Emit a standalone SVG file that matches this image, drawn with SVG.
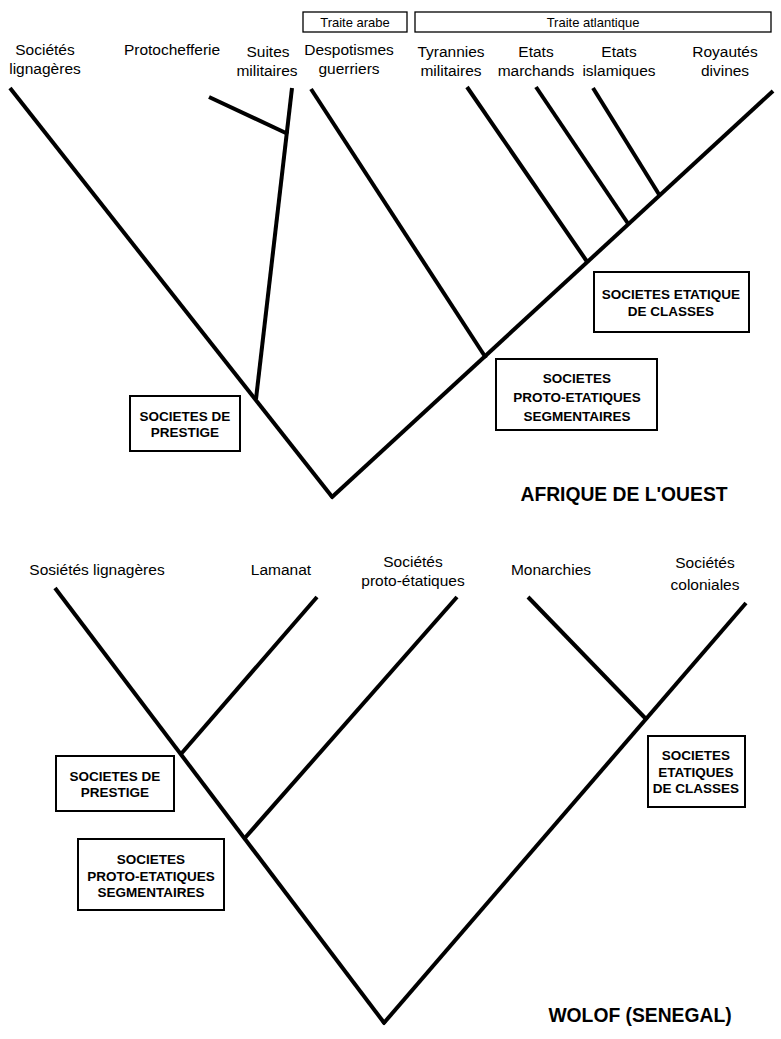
<svg xmlns="http://www.w3.org/2000/svg" width="781" height="1039" viewBox="0 0 781 1039">
<style>
.bg{fill:#fff}
.ln{stroke:#000;stroke-width:4;fill:none;stroke-linecap:butt}
.box{fill:#fff;stroke:#000;stroke-width:2}
.tbox{fill:#fff;stroke:#000;stroke-width:1.3}
.lab{font-family:"Liberation Sans",Arial,sans-serif;font-size:15.5px;fill:#000;text-anchor:middle}
.bt{font-family:"Liberation Sans",Arial,sans-serif;font-size:13.5px;font-weight:bold;fill:#000;text-anchor:middle}
.tt{font-family:"Liberation Sans",Arial,sans-serif;font-size:13px;fill:#000;text-anchor:middle}
.title{font-family:"Liberation Sans",Arial,sans-serif;font-size:19.3px;font-weight:bold;fill:#000;text-anchor:middle}
</style>
<rect class="bg" x="0" y="0" width="781" height="1039"/>
<g id="connectors">
  <line class="ln" x1="10" y1="88" x2="333" y2="498"/>
  <line class="ln" x1="331" y1="498" x2="773" y2="91"/>
  <line class="ln" x1="292" y1="88" x2="256" y2="399"/>
  <line class="ln" x1="209" y1="97" x2="288" y2="134"/>
  <line class="ln" x1="311" y1="89" x2="486" y2="358"/>
  <line class="ln" x1="467" y1="87" x2="588" y2="263"/>
  <line class="ln" x1="536" y1="87" x2="629" y2="225"/>
  <line class="ln" x1="593" y1="88" x2="660" y2="196"/>
  <line class="ln" x1="55" y1="588" x2="385" y2="1024"/>
  <line class="ln" x1="383" y1="1024" x2="746" y2="603"/>
  <line class="ln" x1="317" y1="597" x2="181" y2="754"/>
  <line class="ln" x1="457" y1="597" x2="244" y2="839"/>
  <line class="ln" x1="528" y1="597" x2="647" y2="720"/>
</g>
<g id="traite-arabe">
  <rect class="tbox" x="303" y="12" width="104" height="20"/>
  <text class="tt" x="355" y="27">Traite arabe</text>
</g>
<g id="traite-atlantique">
  <rect class="tbox" x="415" y="12" width="356" height="20"/>
  <text class="tt" x="593" y="27">Traite atlantique</text>
</g>
<g id="n-societes-lignageres">
  <text class="lab" x="45" y="55">Sociétés</text>
  <text class="lab" x="45" y="74">lignagères</text>
</g>
<g id="n-protochefferie">
  <text class="lab" x="172" y="55">Protochefferie</text>
</g>
<g id="n-suites-militaires">
  <text class="lab" x="268" y="57">Suites</text>
  <text class="lab" x="267" y="76">militaires</text>
</g>
<g id="n-despotismes">
  <text class="lab" x="349" y="55">Despotismes</text>
  <text class="lab" x="349" y="74">guerriers</text>
</g>
<g id="n-tyrannies">
  <text class="lab" x="451" y="57">Tyrannies</text>
  <text class="lab" x="451" y="76">militaires</text>
</g>
<g id="n-etats-marchands">
  <text class="lab" x="536" y="57">Etats</text>
  <text class="lab" x="536" y="76">marchands</text>
</g>
<g id="n-etats-islamiques">
  <text class="lab" x="619" y="57">Etats</text>
  <text class="lab" x="619" y="76">islamiques</text>
</g>
<g id="n-royautes">
  <text class="lab" x="725" y="57">Royautés</text>
  <text class="lab" x="725" y="76">divines</text>
</g>
<g id="b-prestige-top">
  <rect class="box" x="130" y="396" width="110" height="55"/>
  <text class="bt" x="185" y="421">SOCIETES DE</text>
  <text class="bt" x="185" y="437">PRESTIGE</text>
</g>
<g id="b-etatique-top">
  <rect class="box" x="594" y="272" width="155" height="60"/>
  <text class="bt" x="671" y="299">SOCIETES ETATIQUE</text>
  <text class="bt" x="671" y="316">DE CLASSES</text>
</g>
<g id="b-proto-top">
  <rect class="box" x="496" y="359" width="161" height="71"/>
  <text class="bt" x="577" y="383">SOCIETES</text>
  <text class="bt" x="577" y="402">PROTO-ETATIQUES</text>
  <text class="bt" x="577" y="421">SEGMENTAIRES</text>
</g>
<g id="title-afrique">
  <text class="title" x="624" y="501">AFRIQUE DE L'OUEST</text>
</g>
<g id="n-sosietes">
  <text class="lab" x="97" y="575">Sosiétés lignagères</text>
</g>
<g id="n-lamanat">
  <text class="lab" x="281" y="575">Lamanat</text>
</g>
<g id="n-proto-etatiques">
  <text class="lab" x="413" y="567">Sociétés</text>
  <text class="lab" x="413" y="586">proto-étatiques</text>
</g>
<g id="n-monarchies">
  <text class="lab" x="551" y="575">Monarchies</text>
</g>
<g id="n-coloniales">
  <text class="lab" x="705" y="568">Sociétés</text>
  <text class="lab" x="705" y="590">coloniales</text>
</g>
<g id="b-prestige-bottom">
  <rect class="box" x="56" y="756" width="118" height="55"/>
  <text class="bt" x="115" y="781">SOCIETES DE</text>
  <text class="bt" x="115" y="797">PRESTIGE</text>
</g>
<g id="b-proto-bottom">
  <rect class="box" x="78" y="839" width="146" height="71"/>
  <text class="bt" x="151" y="864">SOCIETES</text>
  <text class="bt" x="151" y="881">PROTO-ETATIQUES</text>
  <text class="bt" x="151" y="897">SEGMENTAIRES</text>
</g>
<g id="b-etatiques-bottom">
  <rect class="box" x="648" y="736" width="97" height="71"/>
  <text class="bt" x="696" y="760">SOCIETES</text>
  <text class="bt" x="696" y="777">ETATIQUES</text>
  <text class="bt" x="696" y="793">DE CLASSES</text>
</g>
<g id="title-wolof">
  <text class="title" x="640" y="1022">WOLOF (SENEGAL)</text>
</g>
</svg>
